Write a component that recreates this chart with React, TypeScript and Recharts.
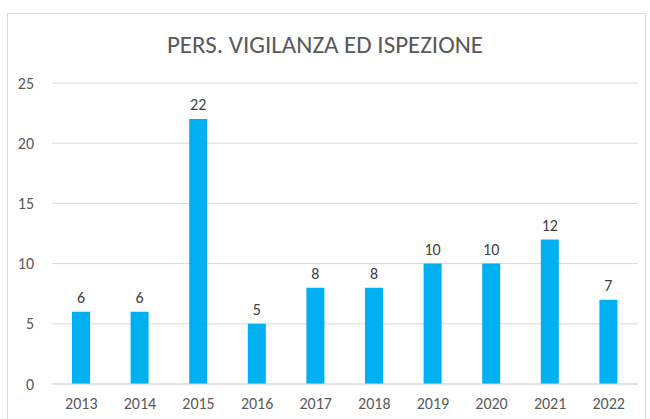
import { BarChart, Bar, XAxis, YAxis, CartesianGrid, LabelList } from 'recharts';

const years = ['2013', '2014', '2015', '2016', '2017', '2018', '2019', '2020', '2021', '2022'];
const counts = [6, 6, 22, 5, 8, 8, 10, 10, 12, 7];
const yTicks = [0, 5, 10, 15, 20, 25];

const data = years.map((year, i) => ({ year, count: counts[i] }));

const FONT = "Carlito, Lato, 'Open Sans', sans-serif";

export default function App() {
  return (
    <div style={{ position: 'absolute', left: 0, top: 0, width: 650, height: 419, background: '#fff', overflow: 'hidden', fontFamily: FONT }}>
      <div
        style={{
          position: 'absolute', left: 7, top: 13, width: 637, height: 420,
          border: '1.5px solid #d9d9d9', borderBottom: 'none',
        }}
      />
      <div
        style={{
          position: 'absolute', left: 0, top: 29, width: 650, textAlign: 'center',
          fontSize: 25, color: '#595959', fontWeight: 300,
        }}
      >
        PERS. VIGILANZA ED ISPEZIONE
      </div>
      <div style={{ position: 'absolute', left: 0, top: 0 }}>
        <BarChart
          width={650}
          height={419}
          data={data}
          margin={{ top: 83, right: 12, left: 22, bottom: 5 }}
        >
          <CartesianGrid vertical={false} stroke="#d9d9d9" />
          <XAxis
            dataKey="year"
            height={30}
            axisLine={{ stroke: '#d9d9d9' }}
            tickLine={false}
            tickMargin={8}
            tick={{ fontSize: 16, fill: '#595959', fontFamily: FONT, fontWeight: 300 }}
          />
          <YAxis
            width={30}
            domain={[0, 25]}
            ticks={yTicks}
            axisLine={false}
            tickLine={false}
            tickMargin={12}
            tick={{ fontSize: 16, fill: '#595959', fontFamily: FONT, fontWeight: 300 }}
          />
          <Bar dataKey="count" fill="#00b0f0" barSize={18} isAnimationActive={false}>
            <LabelList dataKey="count" position="top" offset={9} fill="#404040" fontSize={16} fontFamily={FONT} fontWeight={300} />
          </Bar>
        </BarChart>
      </div>
    </div>
  );
}
